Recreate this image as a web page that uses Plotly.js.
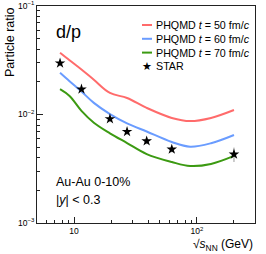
<!DOCTYPE html>
<html><head><meta charset="utf-8">
<script src="https://cdn.plot.ly/plotly-3.0.1.min.js"></script>
<style>body{margin:0;padding:0;background:#fff}#c{width:266px;height:254px}</style>
</head><body><div id="c"></div>
<script>
const modelEnergy = [7.7, 9.2, 11.5, 14.5, 19.6, 27, 39, 62.4, 88, 130, 200];
const t50 = [0.0371, 0.0316, 0.0260, 0.0209, 0.0158, 0.0142, 0.0115, 0.0093, 0.0087, 0.0093, 0.0110];
const t60 = [0.0243, 0.0203, 0.0163, 0.0128, 0.0101, 0.0083, 0.00697, 0.00558, 0.00505, 0.00543, 0.00647];
const t70 = [0.0171, 0.0148, 0.0108, 0.0084, 0.00671, 0.00546, 0.00432, 0.00365, 0.00335, 0.0035, 0.00415];
const starEnergy = [7.7, 11.5, 19.6, 27, 39, 62.4, 200];
const starRatio = [0.0297, 0.0171, 0.0091, 0.00695, 0.0057, 0.00478, 0.0043];
const starErr = [0.0018, 0.0010, 0.0006, 0.00045, 0.00037, 0.0003, 0.00065];
const seriesNames = ['PHQMD <i>t</i> = 50 fm/<i>c</i>', 'PHQMD <i>t</i> = 60 fm/<i>c</i>', 'PHQMD <i>t</i> = 70 fm/<i>c</i>', 'STAR'];
const colors = ['#ff6b6b', '#6a9cff', '#3c9a12'];
const xTickVals = [10, 100];
const xTickText = ['10', '10<sup>2</sup>'];
const yTickVals = [0.001, 0.01, 0.1];
const yTickText = ['10<sup>−3</sup>', '10<sup>−2</sup>', '10<sup>−1</sup>'];

const traces = [t50, t60, t70].map((y, i) => ({
  x: modelEnergy, y: y, type: 'scatter', mode: 'lines',
  line: {color: colors[i], width: 2, shape: 'spline', smoothing: 1}, showlegend: false
}));
traces.push({
  x: starEnergy, y: starRatio, type: 'scatter', mode: 'markers',
  marker: {symbol: 'star', size: 8, color: '#000'},
  error_y: {type: 'data', array: starErr, color: '#999', thickness: 1, width: 0},
  showlegend: false
});

const baseFont = {family: 'Liberation Sans, Arial, sans-serif', color: '#000'};
const ann = [];
const shapes = [];
const legY = [25, 38.8, 52.6, 66.4];
const HH = 254, mTop = 6, mBot = 31, ph = HH - mTop - mBot;
function py(p) { return 1 - (p - mTop) / ph; }
const mL = 37, mR = 11, pw = 266 - mL - mR;
function px(p) { return (p - mL) / pw; }
function f(s) { return Object.assign({}, baseFont, {size: s}); }
for (let i = 0; i < 4; i++) {
  if (i < 3) {
    shapes.push({type: 'line', xref: 'paper', yref: 'paper', x0: px(142), x1: px(152), y0: py(legY[i]), y1: py(legY[i]), line: {color: colors[i], width: 2}});
  } else {
    ann.push({xref: 'paper', yref: 'paper', x: px(146.5), y: py(legY[i]), text: '★', showarrow: false, xanchor: 'center', yanchor: 'middle', font: f(11)});
  }
  ann.push({xref: 'paper', yref: 'paper', x: px(154), y: py(legY[i]), text: seriesNames[i], showarrow: false, xanchor: 'left', yanchor: 'middle', font: f(10.7)});
}
ann.push({xref: 'paper', yref: 'paper', x: px(54), y: py(32), text: 'd/p', showarrow: false, xanchor: 'left', yanchor: 'middle', font: f(18)});
ann.push({xref: 'paper', yref: 'paper', x: px(54), y: py(182), text: 'Au-Au 0-10%', showarrow: false, xanchor: 'left', yanchor: 'middle', font: f(12.5)});
ann.push({xref: 'paper', yref: 'paper', x: px(54), y: py(200), text: '|<i>y</i>| &lt; 0.3', showarrow: false, xanchor: 'left', yanchor: 'middle', font: f(12.5)});
ann.push({xref: 'paper', yref: 'paper', x: 1, y: py(245), text: '√<i>s</i><sub>NN</sub> (GeV)', showarrow: false, xanchor: 'right', yanchor: 'middle', font: f(12)});
ann.push({xref: 'paper', yref: 'paper', x: px(10), y: py(5), text: 'Particle ratio', showarrow: false, textangle: -90, xanchor: 'center', yanchor: 'top', font: f(12.5)});

const layout = {
  width: 266, height: 254,
  margin: {l: mL, r: mR, t: mTop, b: mBot, pad: 0},
  paper_bgcolor: '#fff', plot_bgcolor: '#fff',
  font: baseFont,
  xaxis: {
    type: 'log', range: [0.699, 2.472], showgrid: false, zeroline: false,
    showline: true, linecolor: '#222', linewidth: 1, mirror: true,
    ticks: 'inside', ticklen: 6, tickcolor: '#222',
    tickvals: xTickVals, ticktext: xTickText, tickfont: f(8.5),
    minor: {ticks: 'inside', ticklen: 3, tickcolor: '#222', dtick: 'D1', showgrid: false}
  },
  yaxis: {
    type: 'log', range: [-3, -1], showgrid: false, zeroline: false,
    showline: true, linecolor: '#222', linewidth: 1, mirror: true,
    ticks: 'inside', ticklen: 6, tickcolor: '#222',
    tickvals: yTickVals, ticktext: yTickText, tickfont: f(8.5),
    minor: {ticks: 'inside', ticklen: 3, tickcolor: '#222', dtick: 'D1', showgrid: false}
  },
  annotations: ann, shapes: shapes, showlegend: false
};
Plotly.newPlot('c', traces, layout, {staticPlot: true});
</script></body></html>
